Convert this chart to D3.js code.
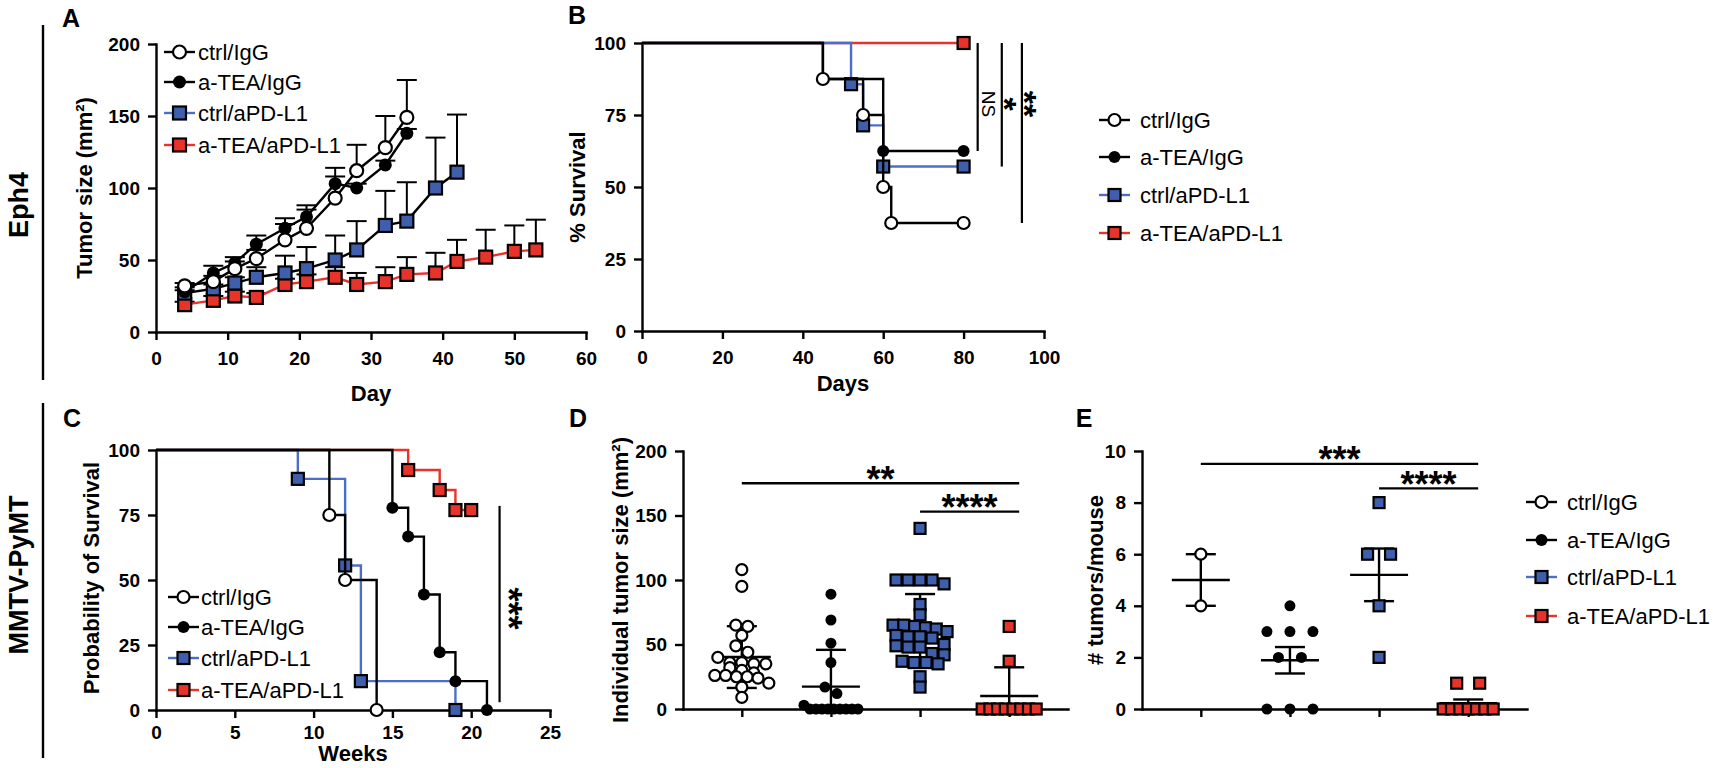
<!DOCTYPE html>
<html>
<head>
<meta charset="utf-8">
<script src="https://cdn.jsdelivr.net/npm/d3@7"></script>
<style>
  body { margin: 0; background: #fff; }
  svg { display: block; font-family: "Liberation Sans", Arial, Helvetica, sans-serif; }
</style>
</head>
<body>
<svg id="fig" width="1713" height="768"></svg>
<script>
// ---- data ----
const groups = ["ctrl/IgG", "a-TEA/IgG", "ctrl/aPD-L1", "a-TEA/aPD-L1"];

// A: tumour growth, mean + error (upper bar only)
const tumorDays = [4, 8, 11, 14, 18, 21, 25, 28, 32, 35, 39, 42, 46, 50, 53];
const tumorCtrlIgG = [32, 35, 44, 51, 64, 72, 93, 112, 128, 149];
const tumorCtrlIgGErr = [2, 4, 5, 6, 11, 13, 15, 18, 22, 26];
const tumorTeaIgG = [28, 41, 48, 61, 72, 80, 103, 100, 116, 138];
const tumorTeaIgGErr = [3, 5, 4, 6, 7, 8, 11, 3, 3, 3];
const tumorCtrlPD = [27, 30, 34, 38, 41, 44, 50, 57, 74, 77, 100, 111];
const tumorCtrlPDErr = [2, 3, 4, 7, 12, 15, 17, 20, 24, 27, 35, 40];
const tumorTeaPD = [19, 22, 25, 24, 33, 35, 38, 33, 35, 40, 41, 49, 52, 56, 57];
const tumorTeaPDErr = [2, 3, 3, 3, 4, 5, 7, 8, 10, 12, 14, 15, 19, 18, 21];

// B: Eph4 survival (days, %)
const bCtrlIgGDay = [0, 45, 55, 60, 62, 80];
const bCtrlIgGSurv = [100, 87.5, 75, 50, 37.5, 37.5];
const bTeaIgGDay = [0, 45, 60, 80];
const bTeaIgGSurv = [100, 87.5, 62.5, 62.5];
const bCtrlPDDay = [0, 52, 55, 60, 80];
const bCtrlPDSurv = [100, 85.7, 71.4, 57.1, 57.1];
const bTeaPDDay = [0, 80];
const bTeaPDSurv = [100, 100];
const bStatDay = [83.5, 89.5, 94.5];
const bStatLow = [62.5, 57.1, 37.5];
const bStatText = ["NS", "*", "**"];

// C: MMTV-PyMT survival (weeks, %)
const cCtrlIgGWeek = [0, 11, 12, 14];
const cCtrlIgGSurv = [100, 75, 50, 0];
const cTeaIgGWeek = [0, 15, 16, 17, 18, 19, 21];
const cTeaIgGSurv = [100, 77.8, 66.7, 44.4, 22.2, 11.1, 0];
const cCtrlPDWeek = [0, 9, 12, 13, 19];
const cCtrlPDSurv = [100, 88.9, 55.6, 11.1, 0];
const cTeaPDWeek = [0, 16, 18, 19, 20];
const cTeaPDSurv = [100, 92.3, 84.6, 76.9, 76.9];
const cStatWeek = 21.8;
const cStatSpan = [3, 78.5];

// D: individual tumour size (mm2)
const dCtrlIgG = [108, 95, 65, 64, 57, 49, 44, 40, 36, 36, 35, 35, 32, 30, 28, 26, 26, 25, 25, 24, 20, 17, 9];
const dTeaIgG = [89, 69, 51, 36, 17, 12, 3, 0, 0, 0, 0, 0, 0, 0, 0, 0];
const dCtrlPD = [140, 100, 100, 100, 100, 97, 81, 73, 65, 65, 64, 63, 62, 60, 57, 56, 56, 55, 50, 49, 48, 48, 43, 42, 37, 36, 36, 35, 25, 17];
const dTeaPD = [64, 37, 0, 0, 0, 0, 0, 0, 0, 0];
const dStatPairs = [[0, 3], [2, 3]];
const dStatLevel = [175, 153];
const dStatText = ["**", "****"];

// E: tumours per mouse
const eCtrlIgG = [6, 4];
const eTeaIgG = [4, 3, 3, 3, 2, 2, 0, 0, 0];
const eCtrlPD = [8, 6, 6, 4, 2];
const eTeaPD = [1, 1, 0, 0, 0, 0, 0, 0, 0];
const eStatPairs = [[0, 3], [2, 3]];
const eStatLevel = [9.5, 8.55];
const eStatText = ["***", "****"];

// ---- style ----
const RED = "#e8332b", BLUE = "#3f5fad", BLUE_LINE = "#4b6fc8";
const FS_TICK = 19, FS_TITLE = 22, FS_LEG = 22, FS_STAR = 36;
const styles = {
  "ctrl/IgG": { shape: "open", line: "#000", fill: "#fff" },
  "a-TEA/IgG": { shape: "dot", line: "#000", fill: "#000" },
  "ctrl/aPD-L1": { shape: "square", line: BLUE_LINE, fill: BLUE },
  "a-TEA/aPD-L1": { shape: "square", line: RED, fill: RED }
};

const svg = d3.select("#fig");
svg.append("rect").attr("width", 1713).attr("height", 768).attr("fill", "#fff");

function drawMarker(g, shape, fill, x, y, s) {
  if (shape === "square") {
    g.append("rect").attr("x", x - s / 2).attr("y", y - s / 2).attr("width", s).attr("height", s)
      .attr("fill", fill).attr("stroke", "#000").attr("stroke-width", 2.2);
  } else if (shape === "open") {
    g.append("circle").attr("cx", x).attr("cy", y).attr("r", s / 2)
      .attr("fill", "#fff").attr("stroke", "#000").attr("stroke-width", 2.2);
  } else {
    g.append("circle").attr("cx", x).attr("cy", y).attr("r", s / 2).attr("fill", "#000");
  }
}

function styleAxis(g) {
  g.attr("font-family", null).attr("font-size", null);
  g.select(".domain").attr("stroke", "#000").attr("stroke-width", 2.4).attr("stroke-linecap", "square");
  g.selectAll(".tick line").attr("stroke", "#000").attr("stroke-width", 2.4);
  g.selectAll(".tick text").attr("font-size", FS_TICK).attr("font-weight", "bold").attr("fill", "#000");
}

function text(x, y, str, size, opts) {
  opts = opts || {};
  const t = svg.append("text").attr("font-size", size).attr("fill", "#000")
    .attr("font-weight", opts.weight || "normal").attr("text-anchor", opts.anchor || "start");
  if (opts.rotate) {
    t.attr("transform", `translate(${x},${y}) rotate(${opts.rotate})`).attr("x", 0).attr("y", opts.dy || 0);
  } else {
    t.attr("x", x).attr("y", y + (opts.dy || 0));
  }
  t.text(str);
  return t;
}

function drawLegend(x0, x1, xText, rows, size) {
  groups.forEach((name, i) => {
    const st = styles[name], y = rows[i];
    const g = svg.append("g");
    g.append("line").attr("x1", x0).attr("x2", x1).attr("y1", y).attr("y2", y)
      .attr("stroke", st.line).attr("stroke-width", 2.4);
    drawMarker(g, st.shape, st.fill, (x0 + x1) / 2, y, size);
    g.append("text").attr("x", xText).attr("y", y + FS_LEG * 0.36).attr("font-size", FS_LEG).text(name);
  });
}

// ---- row labels, dividers, panel letters ----
svg.append("line").attr("x1", 43).attr("x2", 43).attr("y1", 25).attr("y2", 380).attr("stroke", "#000").attr("stroke-width", 2.4);
svg.append("line").attr("x1", 43).attr("x2", 43).attr("y1", 403).attr("y2", 758).attr("stroke", "#000").attr("stroke-width", 2.4);
text(18, 205, "Eph4", 27, { weight: "bold", anchor: "middle", rotate: -90, dy: 27 * 0.36 });
text(18, 575, "MMTV-PyMT", 27, { weight: "bold", anchor: "middle", rotate: -90, dy: 27 * 0.36 });
[["A", 71, 27], ["B", 577, 24], ["C", 72, 427], ["D", 578, 427], ["E", 1084, 427]].forEach(d =>
  text(d[1], d[2], d[0], 25, { weight: "bold", anchor: "middle" }));

// ---- panel A ----
const xA = d3.scaleLinear().domain([0, 60]).range([156, 586]);
const yA = d3.scaleLinear().domain([0, 200]).range([332, 44]);
svg.append("g").attr("transform", `translate(0,${yA(0)})`)
  .call(d3.axisBottom(xA).tickValues(d3.range(0, 61, 10)).tickSize(8).tickPadding(12).tickSizeOuter(0)).call(styleAxis);
svg.append("g").attr("transform", `translate(${xA(0)},0)`)
  .call(d3.axisLeft(yA).tickValues(d3.range(0, 201, 50)).tickSize(8).tickPadding(8).tickSizeOuter(0)).call(styleAxis);
text(84, 188, "Tumor size (mm²)", FS_TITLE, { weight: "bold", anchor: "middle", rotate: -90, dy: FS_TITLE * 0.36 });
text(371, 401, "Day", FS_TITLE, { weight: "bold", anchor: "middle" });

const aSeries = [
  { name: groups[3], vals: tumorTeaPD, err: tumorTeaPDErr, line: RED },
  { name: groups[2], vals: tumorCtrlPD, err: tumorCtrlPDErr, line: "#000" },
  { name: groups[1], vals: tumorTeaIgG, err: tumorTeaIgGErr, line: "#000" },
  { name: groups[0], vals: tumorCtrlIgG, err: tumorCtrlIgGErr, line: "#000" }
];
aSeries.forEach(s => {
  const st = styles[s.name];
  const pts = s.vals.map((v, i) => ({ x: tumorDays[i], y: v, e: s.err[i] }));
  const g = svg.append("g");
  pts.forEach(p => {
    g.append("line").attr("x1", xA(p.x)).attr("x2", xA(p.x)).attr("y1", yA(p.y)).attr("y2", yA(p.y + p.e))
      .attr("stroke", "#000").attr("stroke-width", 2);
    g.append("line").attr("x1", xA(p.x) - 10).attr("x2", xA(p.x) + 10).attr("y1", yA(p.y + p.e)).attr("y2", yA(p.y + p.e))
      .attr("stroke", "#000").attr("stroke-width", 2);
  });
  g.append("path").datum(pts).attr("fill", "none").attr("stroke", s.line).attr("stroke-width", 2.4)
    .attr("d", d3.line().x(p => xA(p.x)).y(p => yA(p.y)));
  pts.forEach(p => drawMarker(g, st.shape, st.fill, xA(p.x), yA(p.y), 13));
});
drawLegend(164, 195, 198, [52, 82, 113, 145], 13);

// ---- survival helper ----
function drawSurvival(xS, yS, series, size) {
  series.forEach(s => {
    const st = styles[s.name];
    const pts = s.t.map((t, i) => ({ t: t, v: s.v[i] }));
    const g = svg.append("g");
    g.append("path").datum(pts).attr("fill", "none").attr("stroke", st.line).attr("stroke-width", 2.4)
      .attr("d", d3.line().curve(d3.curveStepAfter).x(p => xS(p.t)).y(p => yS(p.v)));
    pts.slice(1).forEach(p => drawMarker(g, st.shape, st.fill, xS(p.t), yS(p.v), size));
  });
}

// ---- panel B ----
const xB = d3.scaleLinear().domain([0, 100]).range([642, 1044]);
const yB = d3.scaleLinear().domain([0, 100]).range([331, 43]);
svg.append("g").attr("transform", `translate(0,${yB(0)})`)
  .call(d3.axisBottom(xB).tickValues(d3.range(0, 101, 20)).tickSize(8).tickPadding(12).tickSizeOuter(0)).call(styleAxis);
svg.append("g").attr("transform", `translate(${xB(0)},0)`)
  .call(d3.axisLeft(yB).tickValues(d3.range(0, 101, 25)).tickSize(8).tickPadding(8).tickSizeOuter(0)).call(styleAxis);
text(577, 187, "% Survival", FS_TITLE, { weight: "bold", anchor: "middle", rotate: -90, dy: FS_TITLE * 0.36 });
text(843, 391, "Days", FS_TITLE, { weight: "bold", anchor: "middle" });
drawSurvival(xB, yB, [
  { name: groups[3], t: bTeaPDDay, v: bTeaPDSurv },
  { name: groups[2], t: bCtrlPDDay, v: bCtrlPDSurv },
  { name: groups[1], t: bTeaIgGDay, v: bTeaIgGSurv },
  { name: groups[0], t: bCtrlIgGDay, v: bCtrlIgGSurv }
], 12);
bStatDay.forEach((d, i) => {
  svg.append("line").attr("x1", xB(d)).attr("x2", xB(d)).attr("y1", yB(100)).attr("y2", yB(bStatLow[i]))
    .attr("stroke", "#000").attr("stroke-width", 2.2);
  const isNS = bStatText[i] === "NS";
  const fs = isNS ? 19 : 34;
  text(xB(d) + 11, 104, bStatText[i], fs, { anchor: "middle", rotate: 90, weight: isNS ? "normal" : "bold", dy: fs * (isNS ? 0.36 : 0.57) });
});
drawLegend(1099, 1130, 1140, [120, 157, 195, 233], 12);

// ---- panel C ----
const xC = d3.scaleLinear().domain([0, 25]).range([156, 550]);
const yC = d3.scaleLinear().domain([0, 100]).range([710, 450]);
svg.append("g").attr("transform", `translate(0,${yC(0)})`)
  .call(d3.axisBottom(xC).tickValues(d3.range(0, 26, 5)).tickSize(8).tickPadding(8).tickSizeOuter(0)).call(styleAxis);
svg.append("g").attr("transform", `translate(${xC(0)},0)`)
  .call(d3.axisLeft(yC).tickValues(d3.range(0, 101, 25)).tickSize(8).tickPadding(8).tickSizeOuter(0)).call(styleAxis);
text(91, 578, "Probability of Survival", FS_TITLE, { weight: "bold", anchor: "middle", rotate: -90, dy: FS_TITLE * 0.36 });
text(353, 761, "Weeks", FS_TITLE, { weight: "bold", anchor: "middle" });
drawSurvival(xC, yC, [
  { name: groups[3], t: cTeaPDWeek, v: cTeaPDSurv },
  { name: groups[2], t: cCtrlPDWeek, v: cCtrlPDSurv },
  { name: groups[1], t: cTeaIgGWeek, v: cTeaIgGSurv },
  { name: groups[0], t: cCtrlIgGWeek, v: cCtrlIgGSurv }
], 12);
svg.append("line").attr("x1", xC(cStatWeek)).attr("x2", xC(cStatWeek)).attr("y1", yC(cStatSpan[1])).attr("y2", yC(cStatSpan[0]))
  .attr("stroke", "#000").attr("stroke-width", 2.2);
text(xC(cStatWeek) + 17, yC(39), "***", FS_STAR, { anchor: "middle", rotate: 90, weight: "bold", dy: FS_STAR * 0.57 });
drawLegend(168, 199, 201, [597, 627, 658, 690], 12);

// ---- scatter helpers (D, E) ----
function swarm(values, y, binPx, step, maxW) {
  const bins = d3.groups(values, v => Math.round(y(v) / binPx));
  const out = [];
  bins.forEach(([k, arr]) => {
    const n = arr.length;
    const s = n > 1 ? Math.min(step, maxW / (n - 1)) : 0;
    arr.forEach((v, j) => out.push({ v: v, dx: (j - (n - 1) / 2) * s }));
  });
  return out;
}

function drawScatter(xS, yS, data, useSEM, opts) {
  groups.forEach((name, gi) => {
    const st = styles[name], vals = data[gi], cx = xS(name);
    const mean = d3.mean(vals);
    let e = d3.deviation(vals);
    if (useSEM) e = e / Math.sqrt(vals.length);
    const lo = Math.max(0, mean - e), hi = mean + e;
    const g = svg.append("g");
    const ln = (x1, x2, y1, y2) => g.append("line").attr("x1", x1).attr("x2", x2).attr("y1", y1).attr("y2", y2)
      .attr("stroke", "#000").attr("stroke-width", 2.4);
    ln(cx, cx, yS(lo), yS(hi));
    ln(cx - 15, cx + 15, yS(hi), yS(hi));
    if (mean - e > 0) ln(cx - 15, cx + 15, yS(lo), yS(lo));
    ln(cx - 29, cx + 29, yS(mean), yS(mean));
    swarm(vals, yS, opts.bin, opts.step, opts.maxW)
      .forEach(p => drawMarker(g, st.shape, st.fill, cx + p.dx, yS(p.v), st.shape === "square" ? opts.sq : opts.circ));
  });
}

function drawStats(xS, yS, pairs, levels, labels) {
  pairs.forEach((p, i) => {
    const x1 = xS(groups[p[0]]), x2 = xS(groups[p[1]]) + 10, y = yS(levels[i]);
    svg.append("line").attr("x1", x1).attr("x2", x2).attr("y1", y).attr("y2", y).attr("stroke", "#000").attr("stroke-width", 2.4);
    text((x1 + x2) / 2, y - 12, labels[i], FS_STAR, { anchor: "middle", weight: "bold", dy: FS_STAR * 0.57 });
  });
}

// ---- panel D ----
const xD = d3.scalePoint().domain(groups).range([683, 1068]).padding(0.66);
const yD = d3.scaleLinear().domain([0, 200]).range([709, 451]);
svg.append("g").attr("transform", `translate(0,${yD(0)})`)
  .call(d3.axisBottom(xD).tickSize(8).tickFormat("").tickSizeOuter(0)).call(styleAxis);
svg.append("g").attr("transform", `translate(${683},0)`)
  .call(d3.axisLeft(yD).tickValues(d3.range(0, 201, 50)).tickSize(8).tickPadding(8).tickSizeOuter(0)).call(styleAxis);
text(620, 580, "Individual tumor size (mm²)", FS_TITLE, { weight: "bold", anchor: "middle", rotate: -90, dy: FS_TITLE * 0.36 });
drawScatter(xD, yD, [dCtrlIgG, dTeaIgG, dCtrlPD, dTeaPD], false, { bin: 10, step: 12, maxW: 54, sq: 11, circ: 11 });
drawStats(xD, yD, dStatPairs, dStatLevel, dStatText);

// ---- panel E ----
const xE = d3.scalePoint().domain(groups).range([1142, 1527]).padding(0.66);
const yE = d3.scaleLinear().domain([0, 10]).range([709, 451]);
svg.append("g").attr("transform", `translate(0,${yE(0)})`)
  .call(d3.axisBottom(xE).tickSize(8).tickFormat("").tickSizeOuter(0)).call(styleAxis);
svg.append("g").attr("transform", `translate(${1142},0)`)
  .call(d3.axisLeft(yE).tickValues(d3.range(0, 11, 2)).tickSize(8).tickPadding(8).tickSizeOuter(0)).call(styleAxis);
text(1095, 580, "# tumors/mouse", FS_TITLE, { weight: "bold", anchor: "middle", rotate: -90, dy: FS_TITLE * 0.36 });
drawScatter(xE, yE, [eCtrlIgG, eTeaIgG, eCtrlPD, eTeaPD], true, { bin: 4, step: 23, maxW: 50, sq: 11, circ: 11 });
drawStats(xE, yE, eStatPairs, eStatLevel, eStatText);
drawLegend(1526, 1557, 1567, [502, 540, 577, 616], 12);
</script>
</body>
</html>
